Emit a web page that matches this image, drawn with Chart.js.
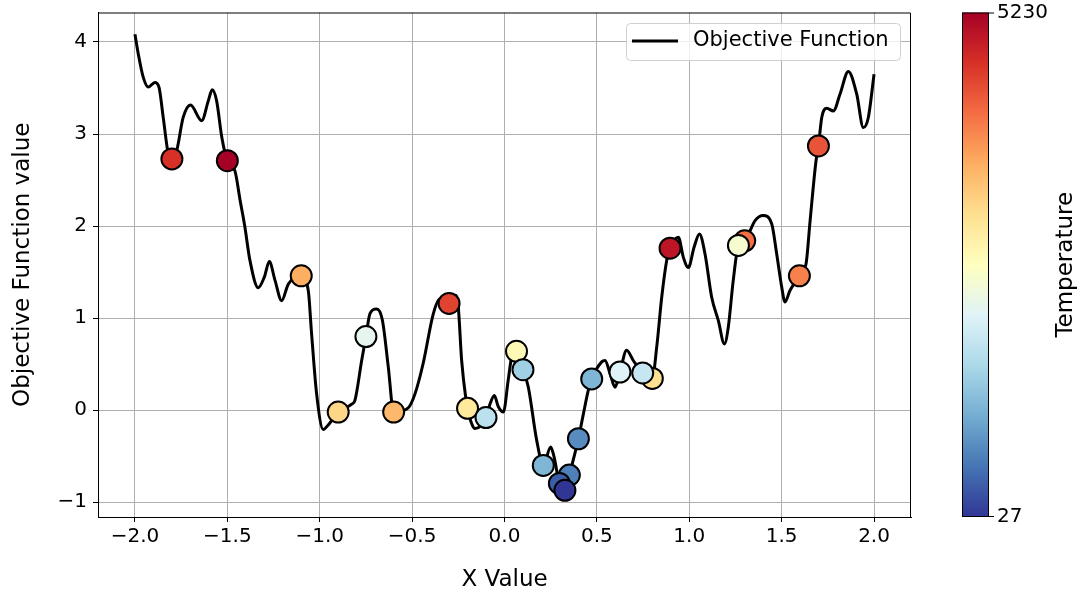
<!DOCTYPE html>
<html>
<head>
<meta charset="utf-8">
<script src="https://cdn.jsdelivr.net/npm/chart.js@4"></script>
<style>
  html, body { margin: 0; padding: 0; background: #fff; }
  #wrap { width: 1080px; height: 595px; }
</style>
</head>
<body>
<div id="wrap"><canvas id="saChart" width="1080" height="595"></canvas></div>
<script>
// objective function curve
const curveX = [-2.0, -1.982, -1.955, -1.928, -1.892, -1.870, -1.847, -1.820, -1.800, -1.774,
  -1.739, -1.699, -1.639, -1.603, -1.582, -1.558, -1.530, -1.500, -1.459, -1.430,
  -1.405, -1.378, -1.333, -1.300, -1.273, -1.242, -1.206, -1.170, -1.100, -1.062,
  -1.044, -1.017, -0.981, -0.954, -0.900, -0.827, -0.809, -0.773, -0.750, -0.728,
  -0.692, -0.661, -0.629, -0.600, -0.521, -0.484, -0.440, -0.385, -0.349, -0.300,
  -0.263, -0.250, -0.232, -0.208, -0.200, -0.178, -0.160, -0.100, -0.078, -0.055,
  -0.034, -0.006, 0.020, 0.039, 0.065, 0.100, 0.129, 0.174, 0.210, 0.250,
  0.268, 0.297, 0.327, 0.351, 0.372, 0.400, 0.427, 0.454, 0.472, 0.526,
  0.544, 0.571, 0.598, 0.625, 0.661, 0.697, 0.748, 0.800, 0.824, 0.851,
  0.878, 0.896, 0.941, 0.968, 0.995, 1.026, 1.055, 1.085, 1.121, 1.157,
  1.190, 1.211, 1.238, 1.266, 1.300, 1.356, 1.400, 1.446, 1.473, 1.500,
  1.518, 1.545, 1.596, 1.632, 1.654, 1.686, 1.699, 1.717, 1.744, 1.780,
  1.816, 1.861, 1.906, 1.942, 1.969, 2.0];
const curveY = [4.085, 3.87, 3.615, 3.51, 3.56, 3.51, 3.18, 2.79, 2.73, 2.82,
  3.18, 3.315, 3.145, 3.36, 3.48, 3.36, 2.965, 2.71, 2.60, 2.27,
  1.99, 1.63, 1.33, 1.445, 1.615, 1.41, 1.19, 1.37, 1.46, 1.30,
  0.83, 0.18, -0.21, -0.16, -0.02, 0.065, 0.11, 0.54, 0.80, 1.05,
  1.10, 0.98, 0.47, -0.02, 0.025, 0.18, 0.51, 1.05, 1.21, 1.16,
  1.25, 1.12, 0.54, 0.11, 0.02, -0.145, -0.20, -0.08, 0.07, 0.16,
  0.04, -0.02, 0.325, 0.58, 0.64, 0.44, 0.25, -0.325, -0.60, -0.40,
  -0.505, -0.795, -0.87, -0.705, -0.54, -0.31, -0.04, 0.22, 0.34, 0.525,
  0.54, 0.40, 0.25, 0.415, 0.65, 0.54, 0.405, 0.345, 0.69, 1.23,
  1.63, 1.76, 1.88, 1.66, 1.55, 1.77, 1.915, 1.70, 1.23, 0.976,
  0.72, 0.90, 1.41, 1.79, 1.84, 2.06, 2.115, 2.025, 1.70, 1.34,
  1.175, 1.30, 1.46, 1.59, 2.06, 2.71, 2.87, 3.18, 3.28, 3.25,
  3.435, 3.68, 3.435, 3.07, 3.18, 3.65];

// accepted states of the annealing run
const stepX = [-1.80, -1.50, -1.10, -0.90, -0.75, -0.60, -0.30, -0.20, -0.10, 0.065,
  0.10, 0.21, 0.351, 0.297, 0.327, 0.40, 0.472, 0.625, 0.80, 0.748,
  0.896, 1.30, 1.266, 1.596, 1.699];
const stepY = [2.73, 2.71, 1.46, -0.02, 0.80, -0.02, 1.16, 0.02, -0.08, 0.64,
  0.44, -0.60, -0.705, -0.795, -0.87, -0.31, 0.34, 0.415, 0.345, 0.405,
  1.76, 1.84, 1.79, 1.46, 2.87];
const stepTemp = [4710, 5230, 3670, 3250, 2210, 3560, 4550, 3000, 1740, 2730,
  1480, 1170, 650, 340, 27, 760, 1170, 2110, 3150, 1850,
  5000, 4190, 2470, 4030, 4400];

const xTicks = [-2.0, -1.5, -1.0, -0.5, 0.0, 0.5, 1.0, 1.5, 2.0];
const yTicks = [-1, 0, 1, 2, 3, 4];
const tempMin = 27;
const tempMax = 5230;

// RdYlBu reversed
const cmapStops = ['#313695', '#4575b4', '#74add1', '#abd9e9', '#e0f3f8', '#ffffbf',
  '#fee090', '#fdae61', '#f46d43', '#d73027', '#a50026'];

function hexToRgb(h) {
  return [parseInt(h.substr(1, 2), 16), parseInt(h.substr(3, 2), 16), parseInt(h.substr(5, 2), 16)];
}

function tempColor(t) {
  let f = (t - tempMin) / (tempMax - tempMin);
  f = Math.max(0, Math.min(1, f));
  let pos = f * (cmapStops.length - 1);
  let i = Math.min(Math.floor(pos), cmapStops.length - 2);
  let w = pos - i;
  let a = hexToRgb(cmapStops[i]), b = hexToRgb(cmapStops[i + 1]);
  let c = a.map((v, k) => Math.round(v + (b[k] - v) * w));
  return 'rgb(' + c.join(',') + ')';
}

const FONT = 'DejaVu Sans';

const extras = {
  id: 'extras',
  afterDraw(chart) {
    const ctx = chart.ctx;
    const area = chart.chartArea;
    ctx.save();
    // top and right spines (left/bottom come from the axes)
    ctx.strokeStyle = '#000';
    ctx.lineWidth = 1;
    ctx.beginPath();
    ctx.moveTo(area.left, area.top + 0.5);
    ctx.lineTo(area.right - 0.5, area.top + 0.5);
    ctx.lineTo(area.right - 0.5, area.bottom);
    ctx.stroke();

    // legend
    ctx.fillStyle = 'rgba(255,255,255,0.8)';
    ctx.strokeStyle = '#d0d0d0';
    ctx.lineWidth = 1;
    ctx.beginPath();
    ctx.roundRect(626.5, 23.5, 274, 37, 4);
    ctx.fill();
    ctx.stroke();
    ctx.strokeStyle = '#000';
    ctx.lineWidth = 3;
    ctx.beginPath();
    ctx.moveTo(632, 41);
    ctx.lineTo(678, 41);
    ctx.stroke();
    ctx.fillStyle = '#000';
    ctx.font = '21px "' + FONT + '"';
    ctx.textBaseline = 'middle';
    ctx.textAlign = 'left';
    ctx.fillText(chart.data.datasets[1].label, 693, 41);

    // colorbar
    const cbL = 962, cbR = 989, cbT = area.top, cbB = area.bottom;
    const grad = ctx.createLinearGradient(0, cbB, 0, cbT);
    cmapStops.forEach((c, i) => grad.addColorStop(i / (cmapStops.length - 1), c));
    ctx.fillStyle = grad;
    ctx.fillRect(cbL, cbT, cbR - cbL, cbB - cbT);
    ctx.strokeStyle = '#000';
    ctx.lineWidth = 1;
    ctx.strokeRect(cbL + 0.5, cbT + 0.5, cbR - cbL - 1, cbB - cbT - 1);
    ctx.beginPath();
    ctx.moveTo(cbR, cbT + 0.5); ctx.lineTo(cbR + 5, cbT + 0.5);
    ctx.moveTo(cbR, cbB - 0.5); ctx.lineTo(cbR + 5, cbB - 0.5);
    ctx.stroke();
    ctx.fillStyle = '#000';
    ctx.font = '20px "' + FONT + '"';
    ctx.textAlign = 'left';
    ctx.fillText(String(tempMax), 997, cbT);
    ctx.fillText(String(tempMin), 997, cbB);
    ctx.translate(1066, (cbT + cbB) / 2);
    ctx.rotate(-Math.PI / 2);
    ctx.textAlign = 'center';
    ctx.font = '23px "' + FONT + '"';
    ctx.fillText('Temperature', 0, 0);
    ctx.restore();
  }
};

new Chart(document.getElementById('saChart'), {
  data: {
    datasets: [{
      type: 'scatter',
      label: 'Current state',
      data: stepX.map((x, i) => ({ x: x, y: stepY[i] })),
      pointRadius: 10.5,
      pointHoverRadius: 10.5,
      pointBackgroundColor: stepTemp.map(tempColor),
      pointBorderColor: '#000',
      pointBorderWidth: 2,
      order: 0
    }, {
      type: 'line',
      label: 'Objective Function',
      data: curveX.map((x, i) => ({ x: x, y: curveY[i] })),
      borderColor: '#000',
      borderWidth: 3,
      pointRadius: 0,
      cubicInterpolationMode: 'monotone',
      fill: false,
      order: 1
    }]
  },
  options: {
    responsive: false,
    animation: false,
    events: [],
    layout: { padding: { left: 9, right: 169, top: 12, bottom: 0 } },
    plugins: {
      legend: { display: false },
      tooltip: { enabled: false }
    },
    scales: {
      x: {
        type: 'linear',
        min: -2.2,
        max: 2.2,
        afterBuildTicks: s => { s.ticks = xTicks.map(v => ({ value: v })); },
        afterFit: s => { s.height = 78; s.paddingLeft = 0; s.paddingRight = 0; },
        border: { color: '#000', width: 1 },
        grid: { color: '#b0b0b0', lineWidth: 1, tickColor: '#000', tickLength: 5 },
        ticks: {
          color: '#000',
          font: { family: FONT, size: 20 },
          padding: 3,
          maxRotation: 0,
          callback: v => (v < 0 ? '\u2212' : '') + Math.abs(v).toFixed(1)
        },
        title: {
          display: true,
          text: 'X Value',
          color: '#000',
          font: { family: FONT, size: 23 },
          padding: { top: 0, bottom: 1 }
        }
      },
      y: {
        type: 'linear',
        min: -1.16,
        max: 4.32,
        afterBuildTicks: s => { s.ticks = yTicks.map(v => ({ value: v })); },
        afterFit: s => { s.width = 89; s.paddingTop = 0; s.paddingBottom = 0; },
        border: { color: '#000', width: 1 },
        grid: { color: '#b0b0b0', lineWidth: 1, tickColor: '#000', tickLength: 5 },
        ticks: {
          color: '#000',
          font: { family: FONT, size: 20 },
          padding: 6,
          callback: v => (v < 0 ? '\u2212' : '') + Math.abs(v)
        },
        title: {
          display: true,
          text: 'Objective Function value',
          color: '#000',
          font: { family: FONT, size: 23 },
          padding: { top: 0, bottom: 0 }
        }
      }
    }
  },
  plugins: [extras]
});
</script>
</body>
</html>
